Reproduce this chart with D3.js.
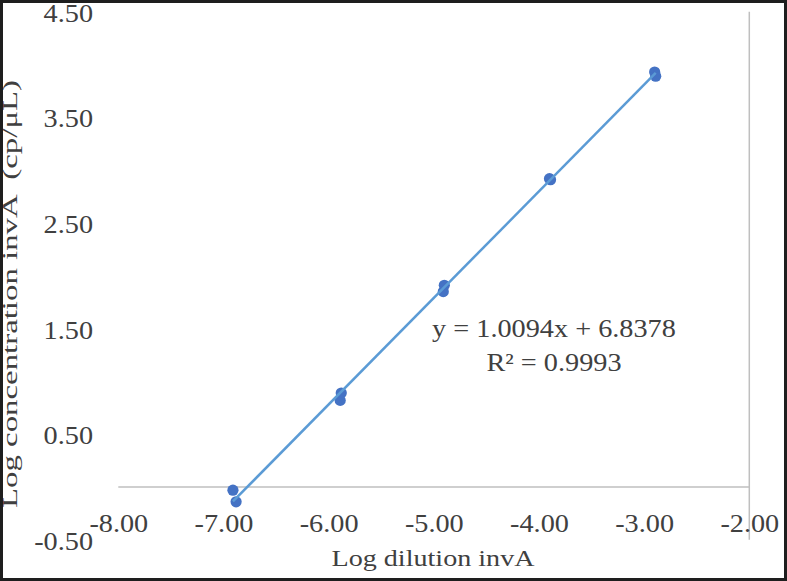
<!DOCTYPE html>
<html>
<head>
<meta charset="utf-8">
<script src="https://cdn.jsdelivr.net/npm/d3@7/dist/d3.min.js"></script>
<style>
  html, body { margin: 0; padding: 0; background: #fff; }
  svg { display: block; }
  text { font-family: "Liberation Serif", "Times New Roman", serif; fill: #404040; }
</style>
</head>
<body>
<svg id="chart" width="787" height="581"></svg>
<script>
// ---- data ----
const logDilution = [-6.91, -6.88, -5.88, -5.89, -4.90, -4.91, -3.89, -3.90, -2.90, -2.89];
const logConcentration = [-0.03, -0.14, 0.89, 0.82, 1.91, 1.85, 2.91, 2.92, 3.93, 3.89];
const xTicks = [-8, -7, -6, -5, -4, -3, -2];
const yTicks = [-0.5, 0.5, 1.5, 2.5, 3.5, 4.5];
const trendSlope = 1.0094;
const trendIntercept = 6.8378;
const rSquared = 0.9993;
const xTitle = "Log dilution invA";
const yTitle = "Log concentration invA  (cp/\u03BCL)";

// ---- layout ----
const W = 787, H = 581;
const plot = { left: 118.3, right: 749.3, top: 11.8, bottom: 539.8 };
const svg = d3.select("#chart");

const x = d3.scaleLinear().domain([-8, -2]).range([plot.left, plot.right]);
const y = d3.scaleLinear().domain([-0.5, 4.5]).range([plot.bottom, plot.top]);

function stretch(sel, factor) {
  sel.each(function () {
    const w = this.getComputedTextLength();
    d3.select(this).attr("textLength", w * factor).attr("lengthAdjust", "spacingAndGlyphs");
  });
}

// white background
svg.append("rect").attr("width", W).attr("height", H).attr("fill", "#fff");

// horizontal axis line at y = 0
svg.append("line")
  .attr("x1", x(-8)).attr("x2", x(-2))
  .attr("y1", y(0)).attr("y2", y(0))
  .attr("stroke", "#bfbfbf").attr("stroke-width", 1.5);

// vertical axis line at x = -2
svg.append("line")
  .attr("x1", x(-2)).attr("x2", x(-2))
  .attr("y1", y(4.5)).attr("y2", y(-0.5))
  .attr("stroke", "#bfbfbf").attr("stroke-width", 1.5);

// x tick labels (low position)
const xAxis = d3.axisBottom(x).tickValues(xTicks).tickSize(0).tickFormat(d => d.toFixed(2));
const gx = svg.append("g").attr("transform", `translate(0,${y(0)})`).call(xAxis);
gx.select(".domain").remove();
gx.selectAll("text")
  .attr("y", 45).attr("dy", 0)
  .style("font-size", "25px")
  .attr("fill", "#404040");
stretch(gx.selectAll("text"), 1.13);

// y tick labels (low position)
const yAxis = d3.axisLeft(y).tickValues(yTicks).tickSize(0).tickPadding(0).tickFormat(d => d.toFixed(2));
const gy = svg.append("g").attr("transform", "translate(93,0)").call(yAxis);
gy.select(".domain").remove();
gy.selectAll("text")
  .attr("dy", "0.38em")
  .style("font-size", "25px")
  .attr("fill", "#404040");
stretch(gy.selectAll("text"), 1.13);

// data points
const pts = logDilution.map((d, i) => ({ x: d, y: logConcentration[i] }));
svg.append("g").selectAll("circle").data(pts).join("circle")
  .attr("cx", d => x(d.x)).attr("cy", d => y(d.y))
  .attr("r", 5.6)
  .attr("fill", "#4472C4");

// linear trendline over the data range
const xMin = d3.min(logDilution), xMax = d3.max(logDilution);
const trend = [xMin, xMax].map(v => ({ x: v, y: trendSlope * v + trendIntercept }));
svg.append("path")
  .datum(trend)
  .attr("d", d3.line().x(d => x(d.x)).y(d => y(d.y)))
  .attr("fill", "none")
  .attr("stroke", "#5B9BD5")
  .attr("stroke-width", 2.5);

// equation label
const eq = svg.append("g").attr("text-anchor", "middle").style("font-size", "25px");
eq.append("text").attr("x", 554).attr("y", 337)
  .text(`y = ${trendSlope.toFixed(4)}x + ${trendIntercept.toFixed(4)}`);
eq.append("text").attr("x", 554).attr("y", 371)
  .text(`R\u00B2 = ${rSquared.toFixed(4)}`);
stretch(eq.selectAll("text"), 1.13);

// axis titles
svg.append("text")
  .attr("x", 433).attr("y", 566)
  .attr("text-anchor", "middle")
  .style("font-size", "24px")
  .attr("textLength", 203).attr("lengthAdjust", "spacingAndGlyphs")
  .text(xTitle);

svg.append("text")
  .attr("transform", "translate(17,294) rotate(-90)")
  .attr("text-anchor", "middle")
  .attr("xml:space", "preserve")
  .style("white-space", "pre")
  .style("font-size", "20px")
  .attr("textLength", 428).attr("lengthAdjust", "spacingAndGlyphs")
  .text(yTitle);

// outer frame
svg.append("rect")
  .attr("x", 1.5).attr("y", 1.5).attr("width", 784).attr("height", 578)
  .attr("fill", "none").attr("stroke", "#1e1e1e").attr("stroke-width", 3);
</script>
</body>
</html>
